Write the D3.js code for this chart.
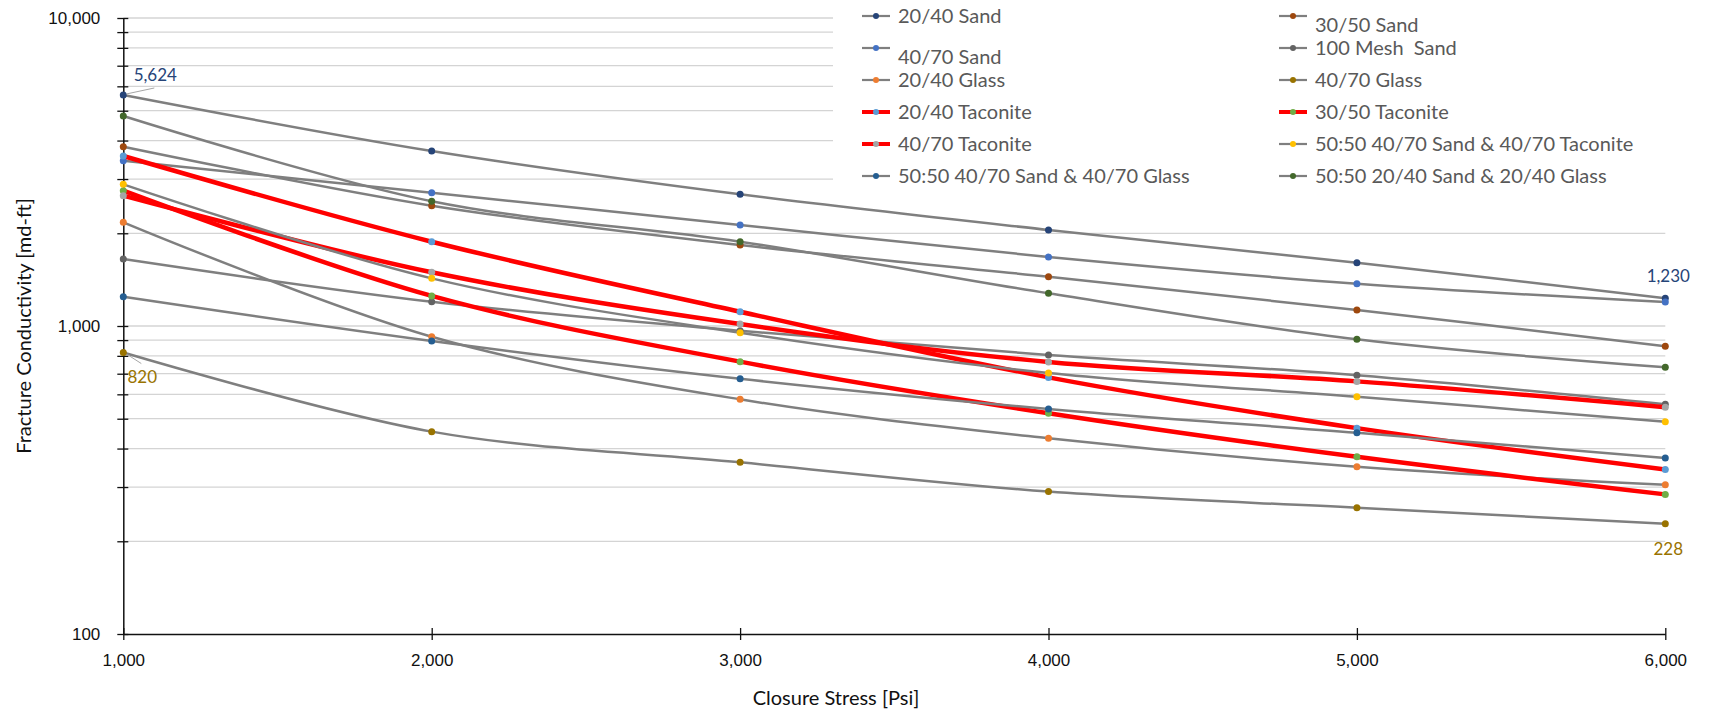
<!DOCTYPE html>
<html>
<head>
<meta charset="utf-8">
<script src="https://cdn.jsdelivr.net/npm/d3@7"></script>
<style>
  html, body { margin: 0; padding: 0; background: #fff; }
  svg { display: block; font-family: Lato, "Liberation Sans", sans-serif; }
</style>
</head>
<body>
<div id="chart"></div>
<script>
// Closure stress steps (Psi)
const stress = [1000, 2000, 3000, 4000, 5000, 6000];

// Fracture conductivity (md-ft)
const sand2040 = [5624, 3700, 2677, 2050, 1605, 1230];
const sand3050 = [3821, 2458, 1832, 1445, 1127, 859];
const sand4070 = [3441, 2709, 2128, 1675, 1372, 1196];
const mesh100 = [1650, 1199, 965, 805, 692, 557];
const glass2040 = [2171, 923, 578, 432, 349, 305];
const glass4070 = [820, 454, 361, 290, 257, 228];
const taconite2040 = [3564, 1878, 1113, 681, 466, 342];
const taconite3050 = [2750, 1252, 766, 521, 376, 284];
const taconite4070 = [2649, 1494, 1015, 764, 661, 545];
const mixSandTaconite = [2884, 1428, 951, 704, 589, 489];
const mixSandGlass4070 = [1245, 894, 674, 538, 450, 373];
const mixSandGlass2040 = [4806, 2541, 1878, 1277, 905, 734];

const seriesNames = [
  "20/40 Sand", "30/50 Sand",
  "40/70 Sand", "100 Mesh  Sand",
  "20/40 Glass", "40/70 Glass",
  "20/40 Taconite", "30/50 Taconite",
  "40/70 Taconite", "50:50 40/70 Sand & 40/70 Taconite",
  "50:50 40/70 Sand & 40/70 Glass", "50:50 20/40 Sand & 20/40 Glass"
];
const seriesValues = [
  sand2040, sand3050, sand4070, mesh100, glass2040, glass4070,
  taconite2040, taconite3050, taconite4070, mixSandTaconite,
  mixSandGlass4070, mixSandGlass2040
];

const yTickLabels = [100, 1000, 10000];

// styling
const markerColors = [
  "#264478", "#9e480e", "#4472c4", "#636363", "#ed7d31", "#997300",
  "#5b9bd5", "#70ad47", "#a5a5a5", "#ffc000", "#255e91", "#43682b"
];
const redSeries = new Set(["20/40 Taconite", "30/50 Taconite", "40/70 Taconite"]);

const width = 1709, height = 712;
const plot = { left: 123.3, right: 1665.3, top: 18, bottom: 634 };

const svg = d3.select("#chart").append("svg")
  .attr("width", width).attr("height", height);

const x = d3.scaleLinear().domain([1000, 6000]).range([plot.left, plot.right]);
const y = d3.scaleLog().domain([100, 10000]).range([plot.bottom, plot.top]);

// minor grid values: 200..900, 1000..9000, 10000
const gridValues = [];
[100, 1000].forEach(base => {
  for (let k = 1; k <= 9; k++) gridValues.push(base * k);
});
gridValues.push(10000);

// gridlines
svg.append("g")
  .selectAll("line")
  .data(gridValues.filter(v => v > 100))
  .join("line")
  .attr("x1", plot.left).attr("x2", plot.right)
  .attr("y1", d => y(d)).attr("y2", d => y(d))
  .attr("stroke", "#d4d4d4")
  .attr("stroke-width", 1.3);

// legend background hides the top gridlines
svg.append("rect")
  .attr("x", 833).attr("y", 0)
  .attr("width", width - 833).attr("height", 205)
  .attr("fill", "#fff");

// x axis
const xAxis = svg.append("g")
  .attr("transform", `translate(0, ${plot.bottom})`)
  .call(d3.axisBottom(x).tickValues(stress).tickFormat(d3.format(","))
    .tickSize(6).tickSizeOuter(0).tickPadding(14));
xAxis.selectAll(".tick line").attr("y1", -6).attr("stroke", "#111").attr("stroke-width", 1.3);
xAxis.select(".domain").attr("stroke", "#111").attr("stroke-width", 1.5);
xAxis.selectAll("text").style("font-size", "17px").attr("fill", "#111");

// y axis
const yAxis = svg.append("g")
  .attr("transform", `translate(${plot.left}, 0)`)
  .call(d3.axisLeft(y).tickValues(gridValues)
    .tickFormat(d => yTickLabels.includes(d) ? d3.format(",")(d) : "")
    .tickSize(6).tickSizeOuter(0).tickPadding(17));
yAxis.selectAll(".tick line").attr("x1", 5).attr("stroke", "#111").attr("stroke-width", 1.3);
yAxis.select(".domain").attr("stroke", "#111").attr("stroke-width", 1.5);
yAxis.selectAll("text").style("font-size", "17px").attr("fill", "#111");

// axis titles
svg.append("text")
  .attr("x", 836).attr("y", 698)
  .attr("dy", "0.35em")
  .attr("text-anchor", "middle")
  .style("font-size", "20px")
  .attr("fill", "#111")
  .text("Closure Stress [Psi]");

svg.append("text")
  .attr("transform", "translate(24, 326) rotate(-90)")
  .attr("dy", "0.35em")
  .attr("text-anchor", "middle")
  .style("font-size", "20px")
  .attr("fill", "#111")
  .text("Fracture Conductivity [md-ft]");

// series
const line = d3.line()
  .x((d, i) => x(stress[i]))
  .y(d => y(d))
  .curve(d3.curveCatmullRom);

const seriesG = svg.append("g");
seriesNames.forEach((name, si) => {
  const isRed = redSeries.has(name);
  const g = seriesG.append("g");
  g.append("path")
    .datum(seriesValues[si])
    .attr("d", line)
    .attr("fill", "none")
    .attr("stroke", isRed ? "#ff0000" : "#7f7f7f")
    .attr("stroke-width", isRed ? 4.5 : 2.5);
  g.selectAll("circle")
    .data(seriesValues[si])
    .join("circle")
    .attr("cx", (d, i) => x(stress[i]))
    .attr("cy", d => y(d))
    .attr("r", 3.5)
    .attr("fill", markerColors[si]);
});

// data labels
function leader(x1, y1, x2, y2) {
  svg.append("line")
    .attr("x1", x1).attr("y1", y1).attr("x2", x2).attr("y2", y2)
    .attr("stroke", "#a6a6a6").attr("stroke-width", 1);
}
function dataLabel(text, cx, cy, color) {
  svg.append("text")
    .attr("x", cx).attr("y", cy)
    .attr("dy", "0.35em")
    .attr("text-anchor", "middle")
    .style("font-size", "17px")
    .attr("fill", color)
    .text(text);
}
const fmt = d3.format(",");
const p1 = [x(stress[0]), y(sand2040[0])];
leader(p1[0] + 3, p1[1] - 1, p1[0] + 31, p1[1] - 7);
dataLabel(fmt(sand2040[0]), p1[0] + 32, p1[1] - 20, markerColors[0]);

const p2 = [x(stress[5]), y(sand2040[5])];
dataLabel(fmt(sand2040[5]), p2[0] + 3, p2[1] - 22, markerColors[0]);

const p3 = [x(stress[0]), y(glass4070[0])];
leader(p3[0] + 4, p3[1] + 2, p3[0] + 18, p3[1] + 11);
dataLabel(fmt(glass4070[0]), p3[0] + 19, p3[1] + 25, markerColors[5]);

const p4 = [x(stress[5]), y(glass4070[5])];
dataLabel(fmt(glass4070[5]), p4[0] + 3, p4[1] + 25, markerColors[5]);

// legend
const legendRowY = [16, 48, 80, 112, 144, 176];
const legendColX = [862, 1279];
const legendTextShift = { "40/70 Sand": 9, "30/50 Sand": 9 };
const legend = svg.append("g");
seriesNames.forEach((name, i) => {
  const lx = legendColX[i % 2];
  const ly = legendRowY[Math.floor(i / 2)];
  const isRed = redSeries.has(name);
  const item = legend.append("g");
  item.append("line")
    .attr("x1", lx).attr("x2", lx + 28)
    .attr("y1", ly).attr("y2", ly)
    .attr("stroke", isRed ? "#ff0000" : "#7f7f7f")
    .attr("stroke-width", isRed ? 4 : 2.2);
  item.append("circle")
    .attr("cx", lx + 14).attr("cy", ly).attr("r", 3)
    .attr("fill", markerColors[i]);
  item.append("text")
    .attr("x", lx + 36).attr("y", ly + (legendTextShift[name] || 0))
    .attr("dy", "0.35em")
    .style("font-size", "20px")
    .attr("fill", "#595959")
    .attr("xml:space", "preserve")
    .style("white-space", "pre")
    .text(name);
});
</script>
</body>
</html>
